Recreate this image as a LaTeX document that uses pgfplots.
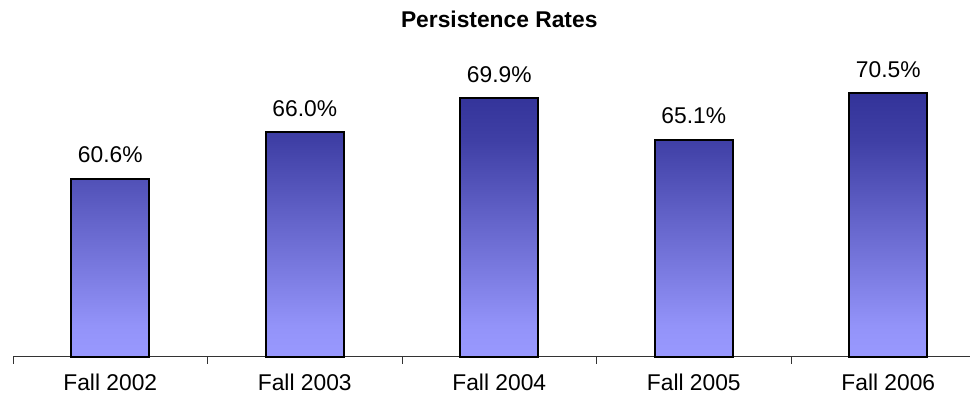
\documentclass[border=0pt]{standalone}
\usepackage{pgfplots}
\pgfplotsset{compat=1.18}
\usepackage{fontspec}
\setmainfont{Liberation Sans}
\definecolor{bartop}{RGB}{51,51,153}
\definecolor{barbot}{RGB}{153,153,255}
\pgfdeclareverticalshading{barshade}{100bp}{%
  color(0bp)=(barbot); color(25bp)=(barbot); color(31bp)=(barbot!94!bartop);
  color(50bp)=(barbot!50!bartop); color(66bp)=(barbot!12!bartop);
  color(75bp)=(bartop); color(100bp)=(bartop)}
\begin{document}
\fontsize{11.4}{13}\selectfont
\begin{tikzpicture}
\begin{axis}[
    name=ax,
    scale only axis,
    width=478.5pt, height=173pt,
    xmin=-0.5, xmax=4.42,
    ymin=40, ymax=80,
    clip=false,
    axis x line*=bottom,
    axis y line=none,
    axis line style={black!80, line width=0.5pt},
    xtick={0,1,2,3,4},
    xticklabels={Fall 2002,Fall 2003,Fall 2004,Fall 2005,Fall 2006},
    major tick length=0pt,
    minor xtick={-0.5,0.5,1.5,2.5,3.5},
    minor tick length=3.5pt,
    xtick align=outside,
    minor tick style={black!80, line width=0.5pt},
    xticklabel style={anchor=base, yshift=-17pt, inner sep=0pt, font=\fontsize{11.4}{13}\selectfont},
    ybar, bar width=0.4,
    nodes near coords={\pgfmathprintnumber[fixed,fixed zerofill,precision=1,assume math mode=true]{\pgfplotspointmeta}\%},
    every node near coord/.append style={anchor=base, inner sep=0pt, yshift=8pt, font=\fontsize{11.4}{13}\selectfont, text=black},
]
\addplot[draw=black, line width=1pt, shading=barshade] coordinates {
    (0,60.6) (1,66.0) (2,69.9) (3,65.1) (4,70.5)
};
\node[anchor=base, inner sep=0pt, font=\fontsize{11.4}{13}\selectfont\bfseries]
    at (rel axis cs:0.5081,0.952) {Persistence Rates};
\end{axis}
\pgfresetboundingbox
\path ([shift={(-6.5pt,-23.5pt)}]ax.south west) rectangle ([shift={(0pt,5.5pt)}]ax.north east);
\end{tikzpicture}
\end{document}
